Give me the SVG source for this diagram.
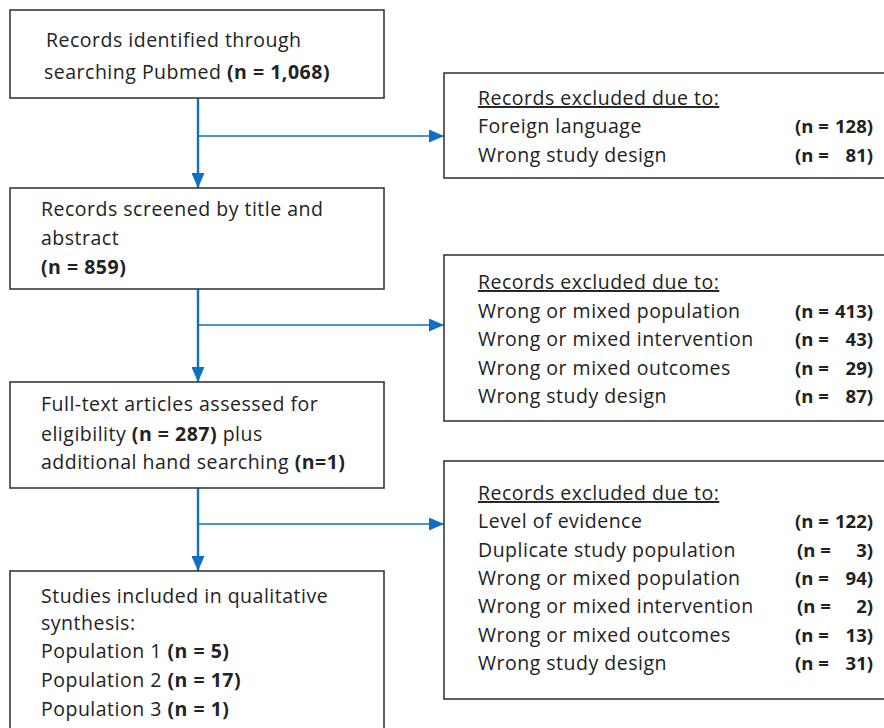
<svg xmlns="http://www.w3.org/2000/svg" width="884" height="728" viewBox="0 0 884 728">
<style>
  .box{fill:#fff;stroke:#3a3a3a;stroke-width:1.6}
  text{font-family:"Open Sans","Noto Sans",sans-serif;font-size:19.5px;letter-spacing:0.5px;fill:#222}
  .b{font-weight:bold}
  .u{text-decoration:underline}
  .v{stroke:#0e6fc4;stroke-width:2.4;fill:none}
  .h{stroke:#0e6fc4;stroke-width:1.7;fill:none}
  .n{font-weight:bold;font-size:18.5px;letter-spacing:0}
  .r{text-anchor:end}
</style>
<defs>
  <marker id="ah" markerUnits="userSpaceOnUse" markerWidth="15" markerHeight="13" refX="15" refY="6.5" orient="auto">
    <path d="M0,0 L15,6.5 L0,13 Z" fill="#0e6fc4"/>
  </marker>
</defs>
<rect width="884" height="728" fill="#fff"/>

<g id="connectors">
  <line class="v" x1="198" y1="98" x2="198" y2="188" marker-end="url(#ah)"/>
  <line class="h" x1="198" y1="136" x2="444" y2="136" marker-end="url(#ah)"/>
  <line class="v" x1="198" y1="289" x2="198" y2="382" marker-end="url(#ah)"/>
  <line class="h" x1="198" y1="325" x2="444" y2="325" marker-end="url(#ah)"/>
  <line class="v" x1="198" y1="488" x2="198" y2="571" marker-end="url(#ah)"/>
  <line class="h" x1="198" y1="524" x2="444" y2="524" marker-end="url(#ah)"/>
</g>

<g id="identified">
  <rect class="box" x="10" y="10" width="374" height="88"/>
  <text x="46" y="47">Records identified through</text>
  <text x="44" y="79">searching Pubmed <tspan class="b">(n = 1,068)</tspan></text>
</g>

<g id="screened">
  <rect class="box" x="10" y="188" width="374" height="101"/>
  <text x="41" y="216">Records screened by title and</text>
  <text x="41" y="245">abstract</text>
  <text x="41" y="274" class="b">(n = 859)</text>
</g>

<g id="fulltext">
  <rect class="box" x="10" y="382" width="374" height="106"/>
  <text x="41" y="411">Full-text articles assessed for</text>
  <text x="41" y="441">eligibility <tspan class="b">(n = 287)</tspan> plus</text>
  <text x="41" y="469">additional hand searching <tspan class="b">(n=1)</tspan></text>
</g>

<g id="included">
  <rect class="box" x="10" y="571" width="374" height="180"/>
  <text x="41" y="603">Studies included in qualitative</text>
  <text x="41" y="630">synthesis:</text>
  <text x="41" y="658">Population 1 <tspan class="b">(n = 5)</tspan></text>
  <text x="41" y="687">Population 2 <tspan class="b">(n = 17)</tspan></text>
  <text x="41" y="716">Population 3 <tspan class="b">(n = 1)</tspan></text>
</g>

<g id="excluded1">
  <rect class="box" x="444" y="73" width="460" height="105"/>
  <text x="478" y="105" class="u">Records excluded due to:</text>
  <text x="478" y="133">Foreign language</text>
  <text x="478" y="162">Wrong study design</text>
  <text x="795" y="133" class="n">(n =</text><text x="873" y="133" class="n r">128)</text>
  <text x="795" y="162" class="n">(n =</text><text x="873" y="162" class="n r">81)</text>
</g>

<g id="excluded2">
  <rect class="box" x="444" y="255" width="460" height="166"/>
  <text x="478" y="289" class="u">Records excluded due to:</text>
  <text x="478" y="318">Wrong or mixed population</text>
  <text x="478" y="346">Wrong or mixed intervention</text>
  <text x="478" y="375">Wrong or mixed outcomes</text>
  <text x="478" y="403">Wrong study design</text>
  <text x="795" y="318" class="n">(n =</text><text x="873" y="318" class="n r">413)</text>
  <text x="795" y="346" class="n">(n =</text><text x="873" y="346" class="n r">43)</text>
  <text x="795" y="375" class="n">(n =</text><text x="873" y="375" class="n r">29)</text>
  <text x="795" y="403" class="n">(n =</text><text x="873" y="403" class="n r">87)</text>
</g>

<g id="excluded3">
  <rect class="box" x="444" y="461" width="460" height="238"/>
  <text x="478" y="500" class="u">Records excluded due to:</text>
  <text x="478" y="528">Level of evidence</text>
  <text x="478" y="557">Duplicate study population</text>
  <text x="478" y="585">Wrong or mixed population</text>
  <text x="478" y="613">Wrong or mixed intervention</text>
  <text x="478" y="642">Wrong or mixed outcomes</text>
  <text x="478" y="670">Wrong study design</text>
  <text x="795" y="528" class="n">(n =</text><text x="873" y="528" class="n r">122)</text>
  <text x="797" y="557" class="n">(n =</text><text x="873" y="557" class="n r">3)</text>
  <text x="795" y="585" class="n">(n =</text><text x="873" y="585" class="n r">94)</text>
  <text x="797" y="613" class="n">(n =</text><text x="873" y="613" class="n r">2)</text>
  <text x="795" y="642" class="n">(n =</text><text x="873" y="642" class="n r">13)</text>
  <text x="795" y="670" class="n">(n =</text><text x="873" y="670" class="n r">31)</text>
</g>
</svg>
